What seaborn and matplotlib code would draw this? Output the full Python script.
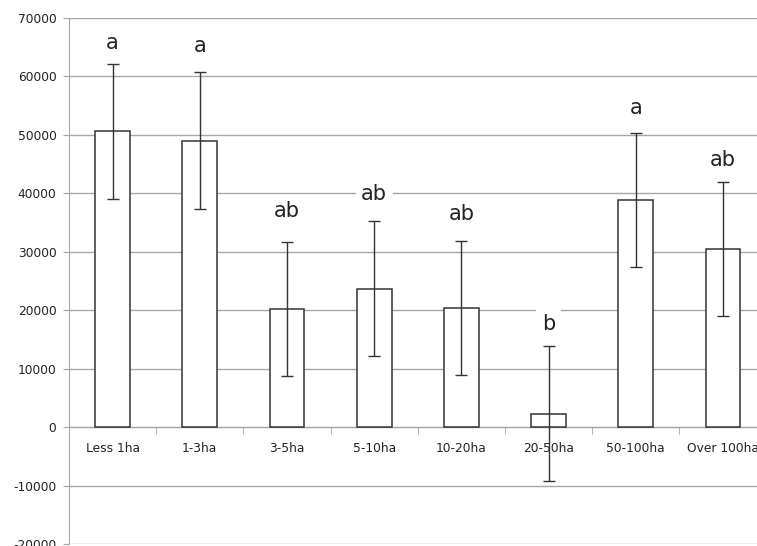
import matplotlib
matplotlib.use("Agg")
import matplotlib.pyplot as plt
import pandas as pd
import seaborn as sns

# Chart data
categories = ["Less 1ha", "1-3ha", "3-5ha", "5-10ha", "10-20ha", "20-50ha", "50-100ha", "Over 100ha"]
means = [50600, 49000, 20200, 23700, 20400, 2300, 38900, 30500]
errors = [11600, 11700, 11500, 11600, 11500, 11500, 11500, 11500]
letters = ["a", "a", "ab", "ab", "ab", "b", "a", "ab"]
letter_y = [65700, 65200, 37000, 39900, 36500, 17600, 54600, 45700]

df = pd.DataFrame({"size": categories, "value": means, "err": errors,
                   "group": letters, "group_y": letter_y})

sns.set_style("white")
plt.rcParams["font.family"] = ["DejaVu Sans"]
plt.rcParams["axes.unicode_minus"] = False

fig = plt.figure(figsize=(7.57, 5.46), dpi=100)
ax = fig.add_axes([0.0911, 0.0037, 0.9216, 0.9633])

sns.barplot(data=df, x="size", y="value", order=categories, color="white",
            edgecolor="#333333", linewidth=1.1, width=0.4, ax=ax, zorder=3)
ax.errorbar(range(len(categories)), df["value"], yerr=df["err"], fmt="none",
            ecolor="#333333", elinewidth=1, capsize=4, capthick=1, zorder=4)

# group letters with a white box that breaks the gridlines
for i, row in df.iterrows():
    ax.text(i, row["group_y"], row["group"], ha="center", va="center",
            fontsize=15, color="#222222",
            bbox=dict(facecolor="white", edgecolor="none", pad=4), zorder=5)

ax.set_ylim(-20000, 70000)
ax.set_xlim(-0.5, len(categories) - 0.5)
ax.set_yticks(range(-20000, 70001, 10000))
ax.yaxis.grid(True, color="#a6a6a6", linewidth=1)
ax.set_axisbelow(True)

# category axis sits on the zero line
ax.spines["bottom"].set_position(("data", 0))
ax.spines["bottom"].set_color("#a6a6a6")
ax.spines["left"].set_color("#a6a6a6")
ax.spines["top"].set_visible(False)
ax.spines["right"].set_visible(False)
ax.set_xticks([i + 0.5 for i in range(len(categories) - 1)], minor=True)
ax.tick_params(axis="x", which="major", length=0, pad=11, labelsize=8.8, labelcolor="#222222")
ax.tick_params(axis="x", which="minor", direction="out", length=5, color="#a6a6a6", bottom=True)
ax.tick_params(axis="y", direction="out", length=4, color="#a6a6a6", pad=5,
               labelsize=8.8, labelcolor="#222222", left=True)
ax.set_xlabel("")
ax.set_ylabel("")

fig.savefig("out.png", dpi=100)
